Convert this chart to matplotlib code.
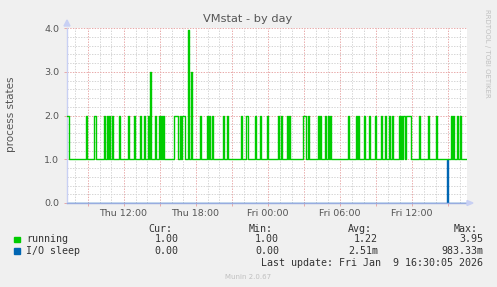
import matplotlib
matplotlib.use("Agg")
import matplotlib.pyplot as plt
import matplotlib.dates as mdates
from matplotlib.patches import Rectangle, Polygon
import numpy as np
import pandas as pd

# 400 samples, 5 minutes apart (Munin "by day" graph)
n_samples = 400
start = pd.Timestamp("2026-01-08 07:20")

# running: baseline 1.0, spikes (sample index -> value)
spike_index = [0, 1, 19, 27, 28, 37, 40, 42, 45, 52, 61, 67, 73, 77, 81, 83, 88, 92, 94, 96,
               107, 108, 109, 110, 113, 115, 116, 117, 121, 124, 133, 140, 142, 145, 156, 160,
               174, 179, 180, 188, 193, 200, 211, 214, 220, 222, 236, 237, 238, 241, 251, 253,
               258, 261, 263, 281, 289, 291, 297, 302, 308, 314, 318, 322, 325, 332, 334, 336,
               337, 339, 340, 341, 342, 343, 352, 361, 369, 384, 386, 390, 393]
spike_value = [2, 2, 2, 2, 2, 2, 2, 2, 2, 2, 2, 2, 2, 2, 2, 3, 2, 2, 2, 2,
               2, 2, 2, 2, 2, 2, 2, 2, 3.95, 3, 2, 2, 2, 2, 2, 2,
               2, 2, 2, 2, 2, 2, 2, 2, 2, 2, 2, 2, 2, 2, 2, 2,
               2, 2, 2, 2, 2, 2, 2, 2, 2, 2, 2, 2, 2, 2, 2, 2,
               2, 2, 2, 2, 2, 2, 2, 2, 2, 2, 2, 2, 2]
running_base = 1.0

# I/O sleep: zero except one sample
iosleep_index = [380]
iosleep_value = [0.98333]

legend_names = ["running", "I/O sleep"]
legend_colors = ["#00CC00", "#0066B3"]
legend_cur = ["1.00", "0.00"]
legend_min = ["1.00", "0.00"]
legend_avg = ["1.22", "2.51m"]
legend_max = ["3.95", "983.33m"]

times = start + pd.to_timedelta(np.arange(n_samples) * 5, unit="min")
running = np.full(n_samples, running_base)
running[spike_index] = spike_value
iosleep = np.zeros(n_samples)
iosleep[iosleep_index] = iosleep_value

W, H = 497, 287
fig = plt.figure(figsize=(W / 100, H / 100), dpi=100, facecolor="#F0F0F0")


def px(x, y):
    return x / W, 1 - y / H


ax = fig.add_axes([67 / W, (H - 203) / H, 400 / W, 175 / H])
ax.set_facecolor("white")

ax.plot(times, running, color=legend_colors[0], lw=1.0, drawstyle="steps-mid", zorder=3)
ax.plot(times, iosleep, color=legend_colors[1], lw=1.0, drawstyle="steps-mid", zorder=2.2)

ax.set_xlim(times[0] - pd.Timedelta(minutes=2.5), times[-1] + pd.Timedelta(minutes=2.5))
ax.set_ylim(0, 4)

ax.yaxis.set_major_locator(plt.MultipleLocator(1))
ax.yaxis.set_minor_locator(plt.MultipleLocator(0.2))
ax.yaxis.set_major_formatter(plt.FormatStrFormatter("%.1f"))

ax.xaxis.set_major_locator(mdates.HourLocator(byhour=range(0, 24, 3)))
ax.xaxis.set_minor_locator(mdates.HourLocator())


def fmt_x(v, pos):
    d = mdates.num2date(v)
    return d.strftime("%a %H:%M") if d.hour % 6 == 0 else ""


ax.xaxis.set_major_formatter(plt.FuncFormatter(fmt_x))

ax.grid(which="minor", color="#d4d4d4", lw=0.7, ls=(0, (1.4, 1.4)), zorder=1)
ax.grid(which="major", color="#e8a8a8", lw=0.7, ls=(0, (1.4, 1.4)), zorder=2)

ax.tick_params(which="both", labelsize=6.8, labelcolor="#555555", color="#e8a8a8",
               length=2, width=0.7)
ax.tick_params(which="minor", length=0)
ax.tick_params(axis="y", pad=3.5)
ax.tick_params(axis="x", pad=2.2)

for s in ["top", "right"]:
    ax.spines[s].set_visible(False)
ax.spines["left"].set_color("#c8d0f4")
ax.spines["left"].set_linewidth(1.0)
ax.spines["bottom"].set_color("#98ace0")
ax.spines["bottom"].set_linewidth(1.0)
ax.spines["bottom"].set_zorder(2.5)

# axis arrows
fig.patches.append(Polygon([px(64, 26), px(70, 26), px(67, 20)], closed=True,
                           transform=fig.transFigure, color="#c8d0f4"))
fig.patches.append(Polygon([px(467, 200.5), px(467, 205.5), px(473, 203)], closed=True,
                           transform=fig.transFigure, color="#c8d0f4"))

fig.text(*px(248, 19), "VMstat - by day", ha="center", va="center", fontsize=8.2,
         color="#555555")
fig.text(*px(11, 114), "process states", ha="center", va="center", rotation=90,
         fontsize=7.5, color="#555555")
fig.text(*px(487, 53), "RRDTOOL / TOBI OETIKER", ha="center", va="center", rotation=270,
         fontsize=5, color="#c0c0c0")

mono = dict(family="DejaVu Sans Mono", fontsize=7.2, color="#333333", va="center")
col_right = [178.7, 279, 378, 483.3]
for x, h in zip(col_right, ["Cur:", "Min:", "Avg:", "Max:"]):
    fig.text(*px(x - 6, 228.5), h, ha="right", **mono)

rows_y = [239.5, 251]
for i, name in enumerate(legend_names):
    y = rows_y[i]
    fig.patches.append(Rectangle(px(14, y + 2.5), 5.5 / W, 5.5 / H,
                                 transform=fig.transFigure, color=legend_colors[i]))
    fig.text(*px(26.5, y), name, ha="left", **mono)
    vals = [legend_cur[i], legend_min[i], legend_avg[i], legend_max[i]]
    for x, v in zip(col_right, vals):
        fig.text(*px(x, y), v, ha="right", **mono)

fig.text(*px(483.3, 263.5), "Last update: Fri Jan  9 16:30:05 2026", ha="right", **mono)
fig.text(*px(248, 277), "Munin 2.0.67", ha="center", va="center", fontsize=5,
         color="#c0c0c0")

fig.savefig("out.png", dpi=100, facecolor=fig.get_facecolor())
